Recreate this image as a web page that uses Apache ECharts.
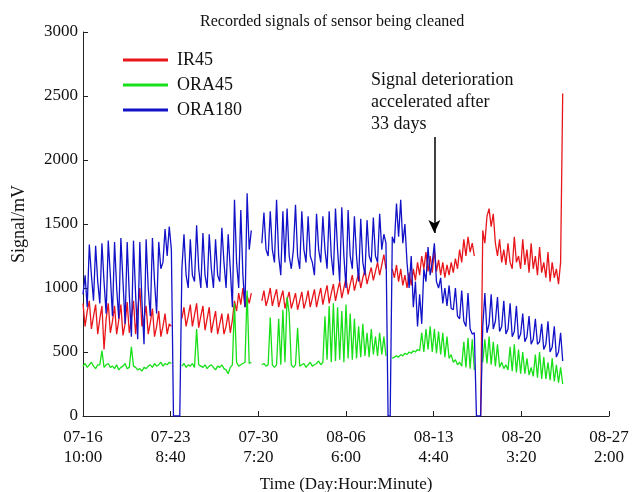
<!DOCTYPE html>
<html>
<head>
<meta charset="utf-8">
<script src="https://cdn.jsdelivr.net/npm/echarts@6/dist/echarts.min.js"></script>
<style>html,body{margin:0;padding:0;background:#fff;}#c{width:632px;height:492px;}</style>
</head>
<body>
<div id="c"></div>
<script>
// Sampling step of the recorded signals (minutes)
const STEP_MIN = 240;
// x tick labels (every 10000 minutes from 07-16 10:00)
const xTickLabels = ['07-16\n10:00', '07-23\n8:40', '07-30\n7:20', '08-06\n6:00', '08-13\n4:40', '08-20\n3:20', '08-27\n2:00'];
const seriesNames = ['IR45', 'ORA45', 'ORA180'];

const IR45 = [
880,700,820,900,680,780,870,640,760,860,520,760,880,650,740,860,640,750,870,630,720,890,650,760,900,640,830,1000,700,760,860,640,730,840,620,700,820,620,700,800,640,720,700,
null,null,null,null,
760,850,700,780,870,700,790,880,690,780,860,670,760,850,650,740,820,640,720,800,640,700,800,650,750,900,820,960,870,1000,850,940,880,960,
null,null,null,null,
900,980,860,920,1000,860,930,990,850,920,980,840,910,970,840,900,960,830,900,970,840,900,980,850,920,990,850,930,1000,870,950,1020,880,960,1030,900,980,1050,920,1000,1080,950,1030,1100,980,1050,1120,1000,1080,1140,1030,1100,1160,1060,1130,1200,1100,1180,1260,1150,
null,null,
1150,1080,1180,1050,1150,1020,1100,1000,1120,1020,1150,1060,1200,1100,1250,1150,1280,1130,1250,1120,1300,1130,1220,1100,1200,1080,1180,1100,1200,1120,1230,1150,1300,1200,1380,1250,1400,1280,1350,1250,
null,null,0,
1450,1350,1560,1620,1480,1580,1350,1250,1380,1200,1300,1180,1350,1200,1150,1400,1200,1250,1150,1380,1180,1300,1120,1350,1150,1250,1100,1320,1120,1200,1080,1280,1050,1200,1080,1150,1030,1200,2520
];

const ORA45 = [
390,410,380,400,420,390,370,400,400,510,380,400,410,380,390,370,400,360,380,390,410,370,380,540,390,380,360,370,350,380,370,390,400,380,410,390,400,420,390,410,400,420,410,
null,null,null,null,
390,410,380,400,390,410,380,680,400,390,380,400,370,390,400,380,360,390,380,400,370,360,330,380,400,880,420,390,400,410,420,980,410,420,
null,null,null,null,
400,410,390,400,770,400,380,400,760,400,830,420,930,800,400,380,400,690,390,400,410,380,400,420,390,400,410,430,400,420,780,440,860,420,880,430,850,440,820,420,870,450,800,440,760,450,700,460,720,470,650,460,680,480,620,470,650,480,620,470,
null,null,
450,460,470,460,480,470,490,480,500,490,510,500,520,510,650,500,680,520,700,500,680,490,660,480,650,460,620,450,480,420,440,400,420,390,580,380,610,370,600,360,
null,null,null,
420,600,410,620,400,580,390,560,380,420,370,400,360,540,350,560,340,520,330,500,330,450,320,380,310,480,300,500,290,460,290,420,280,450,270,400,260,380,250
];

const ORA180 = [
950,1100,850,1340,1100,900,1330,1050,880,1350,1050,800,1370,1100,780,1360,1000,760,1390,1050,720,1360,950,620,1370,950,600,1360,900,560,1380,1000,780,1390,1050,800,1360,1150,1200,1460,1250,1480,1300,
0,0,0,0,
1150,1420,1100,1000,1380,1100,1050,1490,1150,1000,1430,1100,1000,1420,1150,1000,1380,1100,1050,1470,1200,1000,1420,1150,850,1690,1200,1000,1610,1100,850,1740,1300,1450,
null,null,null,null,
1350,1590,1300,1250,1600,1300,1200,1690,1250,1100,1600,1200,1620,1250,1150,1300,1650,1250,1150,1600,1300,1200,1560,1250,1200,1100,1580,1300,1200,1560,1300,1150,1600,1250,1100,1620,1300,1050,1630,1250,1000,1610,1250,1150,1560,1250,1050,1540,1200,1100,1530,1250,1200,1550,1250,1200,1580,1300,1420,1350,
0,0,
1400,1350,1660,1400,1690,1350,1500,1200,1000,1250,850,1050,700,950,720,1150,1050,1320,1100,1200,1350,1050,1000,1080,880,1000,860,1020,840,830,1000,780,760,980,740,700,960,680,640,650,
0,0,0,
700,960,650,720,950,680,740,930,660,700,900,640,680,880,620,660,860,600,640,800,580,620,780,560,600,760,560,580,720,520,560,740,500,540,700,460,500,650,430
];

// Annotation arrow (x in minutes, y in mV)
const arrowX = 40080, arrowFrom = 2180, arrowTo = 1430;
const annotationLines = ['Signal deterioration', 'accelerated after', '33 days'];

const colors = ['#e8161b', '#18e018', '#1212c8'];
const FONT = "'Liberation Serif', 'Times New Roman', serif";

function toPairs(vals) { return vals.map((v, i) => [i * STEP_MIN, v]); }

const chart = echarts.init(document.getElementById('c'), null, {renderer: 'canvas'});
const allSeries = [IR45, ORA45, ORA180].map((vals, k) => ({
  name: seriesNames[k],
  type: 'line',
  data: toPairs(vals),
  showSymbol: false,
  symbol: 'none',
  connectNulls: false,
  lineStyle: {width: 1.3, color: colors[k]},
  itemStyle: {color: colors[k]},
  z: 2 + k,
  animation: false
}));
allSeries[2].markLine = {
  silent: true,
  animation: false,
  symbol: ['none', 'arrow'],
  symbolSize: [9, 13],
  label: {show: false},
  lineStyle: {color: '#000', width: 1.5, type: 'solid'},
  data: [[{coord: [arrowX, arrowFrom]}, {coord: [arrowX, arrowTo]}]]
};

chart.setOption({
  animation: false,
  backgroundColor: '#fff',
  color: colors,
  title: {
    text: 'Recorded signals of sensor being cleaned',
    left: 195, top: 9,
    textStyle: {fontFamily: FONT, fontSize: 16, fontWeight: 'normal', color: '#111'}
  },
  legend: {
    orient: 'vertical',
    left: 123, top: 51,
    padding: 0,
    icon: 'rect',
    itemWidth: 45, itemHeight: 3,
    itemGap: 7,
    textStyle: {fontFamily: FONT, fontSize: 18, color: '#111', lineHeight: 18, padding: [0, 0, 0, 4]},
    data: seriesNames
  },
  grid: {left: 83, right: 23, top: 32, bottom: 76, containLabel: false, outerBoundsMode: 'none'},
  xAxis: {
    type: 'value',
    min: 0, max: 60000, interval: 10000,
    name: 'Time (Day:Hour:Minute)',
    nameLocation: 'middle',
    nameGap: 60,
    nameTextStyle: {fontFamily: FONT, fontSize: 17, color: '#111'},
    axisLine: {show: true, lineStyle: {color: '#222', width: 1}},
    axisTick: {show: true, inside: true, length: 5, lineStyle: {color: '#222'}},
    splitLine: {show: false},
    axisLabel: {
      fontFamily: FONT, fontSize: 17, color: '#111', lineHeight: 20, margin: 12,
      formatter: (v) => xTickLabels[Math.round(v / 10000)]
    }
  },
  yAxis: {
    type: 'value',
    min: 0, max: 3000, interval: 500,
    name: 'Signal/mV',
    nameLocation: 'middle',
    nameGap: 55,
    nameTextStyle: {fontFamily: FONT, fontSize: 18, color: '#111'},
    axisLine: {show: true, lineStyle: {color: '#222', width: 1}},
    axisTick: {show: true, inside: true, length: 5, lineStyle: {color: '#222'}},
    splitLine: {show: false},
    axisLabel: {fontFamily: FONT, fontSize: 17, color: '#111', margin: 5, formatter: (v) => String(v)}
  },
  graphic: [{
    type: 'text',
    left: 371, top: 69,
    style: {
      text: annotationLines.join('\n'),
      fontFamily: FONT, fontSize: 18, lineHeight: 22, fill: '#111'
    }
  }],
  series: allSeries
});
</script>
</body>
</html>
